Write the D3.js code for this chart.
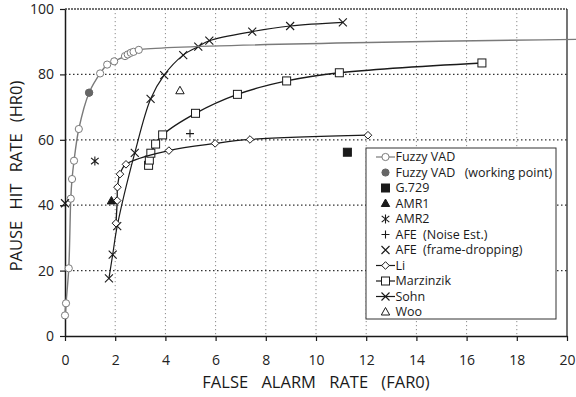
<!DOCTYPE html>
<html>
<head>
<meta charset="utf-8">
<script src="https://cdn.jsdelivr.net/npm/d3@7"></script>
<style>
    body { margin: 0; background: #fff; }
    svg { display: block; font-family: "Open Sans", sans-serif; }
    .tick text { fill: #222; }
</style>
</head>
<body>
<div id="chart"></div>
<script>
// values (FAR0 %, HR0 %)
const fuzzyFar = [0, 0.04, 0.15, 0.23, 0.28, 0.36, 0.55, 0.96, 1.4, 1.68, 1.96, 2.39, 2.5, 2.62, 2.73, 2.94, 20.4];
const fuzzyHr = [6.3, 10, 20.7, 42, 48, 53.6, 63.3, 74.4, 80.3, 83, 84, 85.6, 86.1, 86.6, 86.9, 87.5, 90.7];
const fuzzyMarked = 16; // last point only carries the line on

const workingPoint = [0.96, 74.4];
const g729 = [11.25, 56.2];
const amr1 = [1.85, 41.3];
const amr2 = [1.19, 53.5];
const afeNoise = [4.98, 61.9];
const afeDrop = [0, 40.6];
const woo = [4.58, 75];

const liFar = [2.03, 2.08, 2.09, 2.19, 2.43, 4.14, 5.98, 7.37, 12.07];
const liHr = [34.5, 41.4, 45.5, 49.5, 52.5, 56.7, 58.9, 60.1, 61.4];

const marzFar = [3.33, 3.36, 3.42, 3.61, 3.89, 5.2, 6.87, 8.83, 10.93, 16.61];
const marzHr = [52.2, 53.8, 55.9, 58.7, 61.5, 68.1, 73.9, 78, 80.5, 83.5];

const sohnFar = [1.75, 1.9, 2.08, 2.78, 3.41, 3.95, 4.71, 5.31, 5.75, 7.46, 8.97, 11.07];
const sohnHr = [17.6, 24.9, 33.6, 56, 72.5, 79.8, 85.9, 88.5, 90.3, 93.1, 94.8, 95.9];

const xTicks = [0, 2, 4, 6, 8, 10, 12, 14, 16, 18, 20];
const yTicks = [0, 20, 40, 60, 80, 100];

const legendLabels = [
    'Fuzzy VAD', 'Fuzzy VAD\u2002\u2005(working point)', 'G.729', 'AMR1', 'AMR2',
    'AFE\u2002(Noise Est.)', 'AFE\u2002(frame-dropping)', 'Li', 'Marzinzik', 'Sohn', 'Woo'
];

const WIDTH = 576, HEIGHT = 397;
const margin = {left: 65, top: 9, right: 9, bottom: 61};
const w = WIDTH - margin.left - margin.right;
const h = HEIGHT - margin.top - margin.bottom;
const GRAY = '#7a7a7a';
const INK = '#1a1a1a';

const svg = d3.select('#chart').append('svg')
    .attr('width', WIDTH)
    .attr('height', HEIGHT);

const x = d3.scaleLinear().domain([0, 20]).range([0, w]);
const y = d3.scaleLinear().domain([0, 100]).range([h, 0]);

const g = svg.append('g').attr('transform', `translate(${margin.left},${margin.top})`);

// grid
g.append('g').selectAll('line')
    .data(xTicks.filter(d => d > 0 && d < 20))
    .join('line')
    .attr('x1', d => x(d)).attr('x2', d => x(d))
    .attr('y1', 0).attr('y2', h)
    .attr('stroke', '#8a8a8a')
    .attr('stroke-width', 1)
    .attr('stroke-dasharray', '1.2,2.8');

g.append('g').selectAll('line')
    .data(yTicks.filter(d => d > 0 && d < 100))
    .join('line')
    .attr('x1', 0).attr('x2', w)
    .attr('y1', d => y(d)).attr('y2', d => y(d))
    .attr('stroke', '#333')
    .attr('stroke-width', 1.2)
    .attr('stroke-dasharray', '1.5,2.5');

// top border is dashed, right border solid
g.append('line')
    .attr('x1', 0).attr('x2', w)
    .attr('y1', y(100)).attr('y2', y(100))
    .attr('stroke', '#444')
    .attr('stroke-width', 1.6)
    .attr('stroke-dasharray', '2,1');

g.append('line')
    .attr('x1', x(20)).attr('x2', x(20))
    .attr('y1', 0).attr('y2', h)
    .attr('stroke', INK)
    .attr('stroke-width', 1.2);

// axes
const xAxis = g.append('g')
    .attr('transform', `translate(0,${h})`)
    .call(d3.axisBottom(x).tickValues(xTicks).tickSize(5).tickSizeOuter(0).tickPadding(14));

const yAxis = g.append('g')
    .call(d3.axisLeft(y).tickValues(yTicks).tickSize(5).tickSizeOuter(0).tickPadding(6));

[xAxis, yAxis].forEach(a => {
    a.select('.domain').attr('stroke', INK).attr('stroke-width', 1.5);
    a.selectAll('.tick line').attr('stroke', INK).attr('stroke-width', 1.2);
    a.selectAll('.tick text').attr('font-size', 14).attr('font-family', '"Open Sans", sans-serif');
});

svg.append('text')
    .attr('x', margin.left + w / 2)
    .attr('y', 388)
    .attr('text-anchor', 'middle')
    .attr('font-size', 16.5)
    .attr('word-spacing', 9)
    .attr('fill', INK)
    .text('FALSE ALARM RATE (FAR0)');

svg.append('text')
    .attr('transform', `translate(22,${176}) rotate(-90)`)
    .attr('text-anchor', 'middle')
    .attr('font-size', 16.5)
    .attr('word-spacing', 7)
    .attr('fill', INK)
    .text('PAUSE HIT RATE (HR0)');

// marker painters
const markers = {
    circle: (sel, color, fill) => sel.append('circle').attr('r', 3.6)
        .attr('fill', fill || '#fff').attr('stroke', color).attr('stroke-width', 1),
    square: (sel, color, fill) => sel.append('rect')
        .attr('x', -4).attr('y', -4).attr('width', 8).attr('height', 8)
        .attr('fill', fill || '#fff').attr('stroke', color).attr('stroke-width', 1),
    diamond: (sel, color) => sel.append('path')
        .attr('d', 'M0,-3.8L3.8,0L0,3.8L-3.8,0Z')
        .attr('fill', '#fff').attr('stroke', color).attr('stroke-width', 1),
    triangle: (sel, color, fill) => sel.append('path')
        .attr('d', 'M0,-4.5L4.2,3L-4.2,3Z')
        .attr('fill', fill || '#fff').attr('stroke', color).attr('stroke-width', 1),
    cross: (sel, color) => sel.append('path')
        .attr('d', 'M-4,-4L4,4M-4,4L4,-4')
        .attr('fill', 'none').attr('stroke', color).attr('stroke-width', 1.1),
    plus: (sel, color) => sel.append('path')
        .attr('d', 'M-4,0L4,0M0,-4L0,4')
        .attr('fill', 'none').attr('stroke', color).attr('stroke-width', 1.1),
    star: (sel, color) => sel.append('path')
        .attr('d', 'M-3.8,-3.2L3.8,3.2M-3.8,3.2L3.8,-3.2M0,-4.5L0,4.5')
        .attr('fill', 'none').attr('stroke', color).attr('stroke-width', 1.1)
};

const zip = (xs, ys) => xs.map((v, i) => [v, ys[i]]);
const line = d3.line().x(d => x(d[0])).y(d => y(d[1])).curve(d3.curveCatmullRom.alpha(0.5));

function series(points, marker, color, width, marked = points.length){
    g.append('path')
        .datum(points)
        .attr('d', line)
        .attr('fill', 'none')
        .attr('stroke', color)
        .attr('stroke-width', width);

    g.append('g').selectAll('g')
        .data(points.slice(0, marked))
        .join('g')
        .attr('transform', d => `translate(${x(d[0])},${y(d[1])})`)
        .each(function(){ markers[marker](d3.select(this), color); });
}

function single(p, marker, color, fill){
    const m = g.append('g').attr('transform', `translate(${x(p[0])},${y(p[1])})`);
    markers[marker](m, color, fill);
}

series(zip(sohnFar, sohnHr), 'cross', INK, 1.2);
series(zip(marzFar, marzHr), 'square', INK, 1.4);
series(zip(liFar, liHr), 'diamond', INK, 1.3);
series(zip(fuzzyFar, fuzzyHr), 'circle', GRAY, 1.4, fuzzyMarked);

single(workingPoint, 'circle', '#666', '#666');
single(g729, 'square', INK, INK);
single(amr1, 'triangle', INK, INK);
single(amr2, 'star', INK);
single(afeNoise, 'plus', INK);
single(afeDrop, 'cross', INK);
single(woo, 'triangle', INK);

// legend
const legend = svg.append('g').attr('transform', 'translate(366,148)');
const ROW = 15.5;

legend.append('rect')
    .attr('width', 190).attr('height', 171)
    .attr('fill', '#fff')
    .attr('stroke', '#333')
    .attr('stroke-width', 1);

const legendKeys = [
    {marker: 'circle', color: GRAY, line: true},
    {marker: 'circle', color: '#666', fill: '#666'},
    {marker: 'square', color: INK, fill: INK},
    {marker: 'triangle', color: INK, fill: INK},
    {marker: 'star', color: INK},
    {marker: 'plus', color: INK},
    {marker: 'cross', color: INK},
    {marker: 'diamond', color: INK, line: true},
    {marker: 'square', color: INK, line: true},
    {marker: 'cross', color: INK, line: true},
    {marker: 'triangle', color: INK}
];

const rows = legend.selectAll('g.row')
    .data(legendLabels)
    .join('g')
    .attr('class', 'row')
    .attr('transform', (d, i) => `translate(0,${9 + i * ROW})`);

rows.each(function(d, i){
    const row = d3.select(this);
    const key = legendKeys[i];
    if(key.line){
        row.append('line')
            .attr('x1', 10).attr('x2', 29)
            .attr('stroke', key.color).attr('stroke-width', 1.2);
    }
    const m = row.append('g').attr('transform', 'translate(19.5,0)');
    markers[key.marker](m, key.color, key.fill);
});

rows.append('text')
    .attr('x', 29.5)
    .attr('dy', '0.35em')
    .attr('font-size', 12.5)
    .attr('fill', INK)
    .text(d => d);
</script>
</body>
</html>
